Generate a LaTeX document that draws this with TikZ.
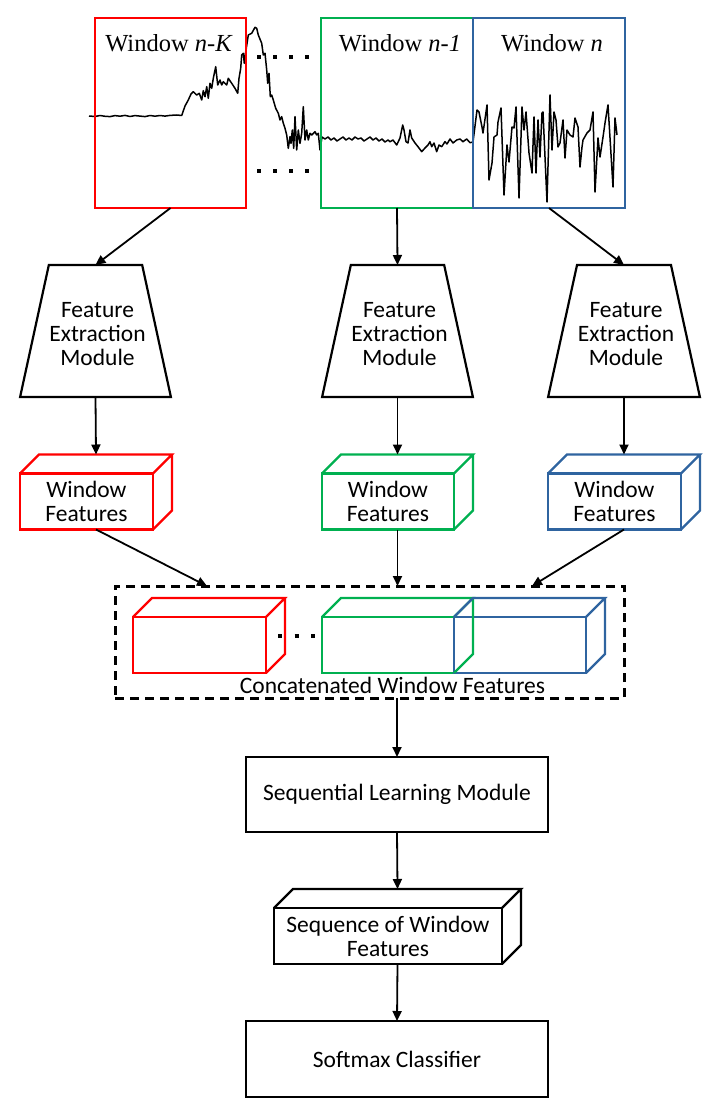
\documentclass[tikz,border=0pt]{standalone}
\usepackage{fontspec}
\setmainfont{Carlito}
\newfontfamily\serifw{Liberation Serif}
\usetikzlibrary{arrows.meta,shapes.geometric,calc}
\definecolor{wred}{HTML}{FF0000}
\definecolor{wgreen}{HTML}{00B050}
\definecolor{wblue}{HTML}{2F64A0}
\newcommand\cubeback[3]{%
  \draw[#2, line width=#3, line join=miter]
    (#1.north west) -- ($(#1.north west)+(19,-19)$) -- ($(#1.north east)+(19,-19)$) -- (#1.north east)
    ($(#1.north east)+(19,-19)$) -- ($(#1.south east)+(19,-19)$) -- (#1.south east);}
\begin{document}
\begin{tikzpicture}[x=1pt,y=-1pt,font=\fontsize{23.5}{24}\selectfont,
  arr/.style={-{Triangle[length=10pt,width=9pt]}, line width=1.8pt},
  winbox/.style={draw, line width=2.8pt, minimum width=151pt, minimum height=190pt, inner sep=0pt, outer sep=0pt},
  winlabel/.style={font=\serifw\fontsize{24.5}{26}\selectfont, anchor=base, inner sep=0pt},
  face/.style={draw, line width=2.2pt, inner sep=0pt, outer sep=0pt, align=center, line join=miter},
  fem/.style={trapezium, draw, line width=2.2pt, trapezium stretches=true, minimum width=151pt, minimum height=132pt, trapezium left angle=74, trapezium right angle=74, inner sep=2pt, outer sep=0pt},
  femtext/.style={align=center, inner sep=0pt},
  plainbox/.style={draw, line width=2.2pt, minimum width=302pt, minimum height=75pt, inner sep=0pt, outer sep=0pt},
  dotrow/.style={line width=4pt, dash pattern=on 4pt off 12pt}]
\useasboundingbox (0,0) rectangle (718,1115);
% signal
\draw[line width=1.5pt, line join=round] plot coordinates {
(89,116) (95,116.5) (100,115.5) (105,116.3) (110,116.6) (115,115.6) (120,116.2) (125,115.4) (130,116.5) (135,115.6) (140,116.1) (145,116.6) (150,115.5) (155,116.2) (160,115.5) (165,116.1) (170,115.4) (176.7,115) (181.7,115.5)
(185,106) (188.3,100) (191,94) (193.3,91.7) (196.7,95) (199.3,93.3) (201.7,100) (203.3,90.7) (205,96.7) (206.7,86.7) (208.3,98.3) (210,83.3) (211.7,88.3) (213.3,78.3) (215.7,66.7) (217.7,85) (220,80) (221.7,85) (223.3,81.7) (226.7,85) (228.3,78.3) (231.7,83.3) (235,88.3) (237.7,93.3) (239,78.3) (240.7,68.3) (241.7,55) (243.3,53.3) (244.3,63.3) (245,56.7) (248.3,35) (251.7,33.3) (255,27.3) (256.7,28.3) (258.3,35) (261.7,43.3) (263.3,55) (265,53.3) (266.7,70) (267.7,83.3) (269,73.3) (270.3,96.7) (271.7,95) (273.3,100) (275.7,108.3) (278.3,113.3) (280,120) (281.7,116.7) (283.3,123.3) (285,128.3) (286.7,135) (288.3,148.3) (290,136.7) (291,143.3) (292.3,130) (293.7,148.3) (295,116.7) (296.7,150) (298.3,130) (300,143.3) (301.7,133.3) (303.3,106.7) (305,140) (306.7,130) (308.3,140) (310,133.3) (311.7,135) (315,131.7) (316.7,135) (318.3,133.3) (320,150)
(322,137) (325,139) (328,137) (331,140) (334,138) (337,141) (340,139) (343,137) (346,140) (349,138) (352,140) (355,137) (358,139) (361,138) (364,141) (367,139) (370,137) (373,140) (376,138) (379,141) (382,139) (385,142) (388,140) (390,141.7) (393,140) (396.7,145) (400,138) (402.7,125) (404,130) (406,141.7) (408,143) (410,130) (411.7,138) (415,143) (418,146.7) (421.7,151.7) (425,148) (428,145) (430,141.7) (431.7,146.7) (434,143) (436.7,151.7) (439,145) (441.7,146.7) (445,141.7) (447,144) (450,139) (453,143) (456.7,140) (460,139) (463,141.7) (466.7,139) (470,142.7) (473,142)
(477,110) (479,112) (482,127) (483,133) (487,105) (489,180) (492,163) (494,137) (497,135) (498,122) (501,108) (504,195) (507,145) (509,162) (512,127) (514,128) (516,107) (519,198) (522,107) (524,130) (526,112) (529,153) (532,173) (534,117) (536,173) (538,120) (540,157) (542,113) (543,112) (547,202) (550,95) (552,150) (554,112) (556,120) (558,147) (560,143) (563,120) (565,158) (567,130) (570,135) (573,137) (575,118) (578,127) (580,167) (582,147) (583,140) (587,133) (590,130) (593,112) (595,192) (598,138) (600,157) (603,137) (605,123) (608,105) (613,187) (615,118) (617,135)};
% dots between windows
\draw[dotrow] (257,57) -- (309,57);
\draw[dotrow] (257,171) -- (309,171);
% windows
\node[winbox, draw=wred] (wk) at (170.5,113) {};
\node[winbox, draw=wgreen, minimum width=152pt] (w1) at (397,113) {};
\node[winbox, draw=wblue, minimum width=152pt] (wn) at (549,113) {};
\node[winlabel] (lk) at (169,52) {Window \textit{n-K}};
\node[winlabel] (l1) at (400,52) {Window \textit{n-1}};
\node[winlabel] (ln) at (552,52) {Window \textit{n}};
% feature extraction modules
\node[fem] (fe1) at (95.5,331) {\phantom{x}};
\node[fem] (fe2) at (397.5,331) {\phantom{x}};
\node[fem, minimum width=152pt] (fe3) at (624,331) {\phantom{x}};
\node[femtext] (fe1t) at (97.5,334.5) {Feature\\Extraction\\Module};
\node[femtext] (fe2t) at (399.5,334.5) {Feature\\Extraction\\Module};
\node[femtext] (fe3t) at (626,334.5) {Feature\\Extraction\\Module};
% window feature cuboids
\node[face, draw=wred, minimum width=133pt, minimum height=56pt] (wf1) at (86.5,501.5) {Window\\Features};
\node[face, draw=wgreen, minimum width=132pt, minimum height=56pt] (wf2) at (388,501.5) {Window\\Features};
\node[face, draw=wblue, minimum width=133pt, minimum height=56pt] (wf3) at (614.5,501.5) {Window\\Features};
\cubeback{wf1}{wred}{2.2pt}
\cubeback{wf2}{wgreen}{2.2pt}
\cubeback{wf3}{wblue}{2.2pt}
% concatenated
\node[draw, line width=3pt, dash pattern=on 9pt off 6pt, minimum width=509pt, minimum height=112pt, inner sep=0pt, outer sep=0pt] (cat) at (369.5,642) {};
\node[face, draw=wred, minimum width=133pt, minimum height=56pt] (c1) at (199.5,645) {};
\node[face, draw=wgreen, minimum width=132pt, minimum height=56pt] (c2) at (388,645) {};
\node[face, draw=wblue, minimum width=132pt, minimum height=56pt] (c3) at (520,645) {};
\cubeback{c1}{wred}{2.2pt}
\cubeback{c2}{wgreen}{2.2pt}
\cubeback{c3}{wblue}{2.2pt}
\draw[line width=4pt, dash pattern=on 4pt off 12.5pt] (278,636) -- (315,636);
\node[anchor=base, inner sep=0pt] (catl) at (392.5,693) {Concatenated Window Features};
% lower chain
\node[plainbox] (slm) at (397,794.5) {Sequential Learning Module};
\node[face, line width=2.4pt, minimum width=228pt, minimum height=56pt] (seqf) at (388,936) {Sequence of Window\\Features};
\cubeback{seqf}{black}{2.4pt}
\node[plainbox, minimum height=76pt] (sm) at (397,1059) {Softmax Classifier};
% arrows
\draw[arr] (wk.south) -- (fe1.north);
\draw[arr] (w1.south) -- (fe2.north);
\draw[arr] (wn.south) -- (fe3.north);
\draw[arr] (fe1.south) -- ($(wf1.north)+(9.5,-19)$);
\draw[arr] (fe2.south) -- ($(wf2.north)+(9.5,-19)$);
\draw[arr] (fe3.south) -- ($(wf3.north)+(9.5,-19)$);
\draw[arr] ($(wf1.south)+(9.5,0)$) -- ($(cat.north west)+(92,0)$);
\draw[arr] ($(wf2.south)+(9.5,0)$) -- ($(cat.north west)+(282.5,0)$);
\draw[arr] ($(wf3.south)+(9.5,0)$) -- ($(cat.north west)+(417,0)$);
\draw[arr] ($(cat.south west)+(282,0)$) -- (slm.north);
\draw[arr] (slm.south) -- ($(seqf.north)+(9.5,-19)$);
\draw[arr] ($(seqf.south)+(9.5,0)$) -- (sm.north);
\end{tikzpicture}
\end{document}
